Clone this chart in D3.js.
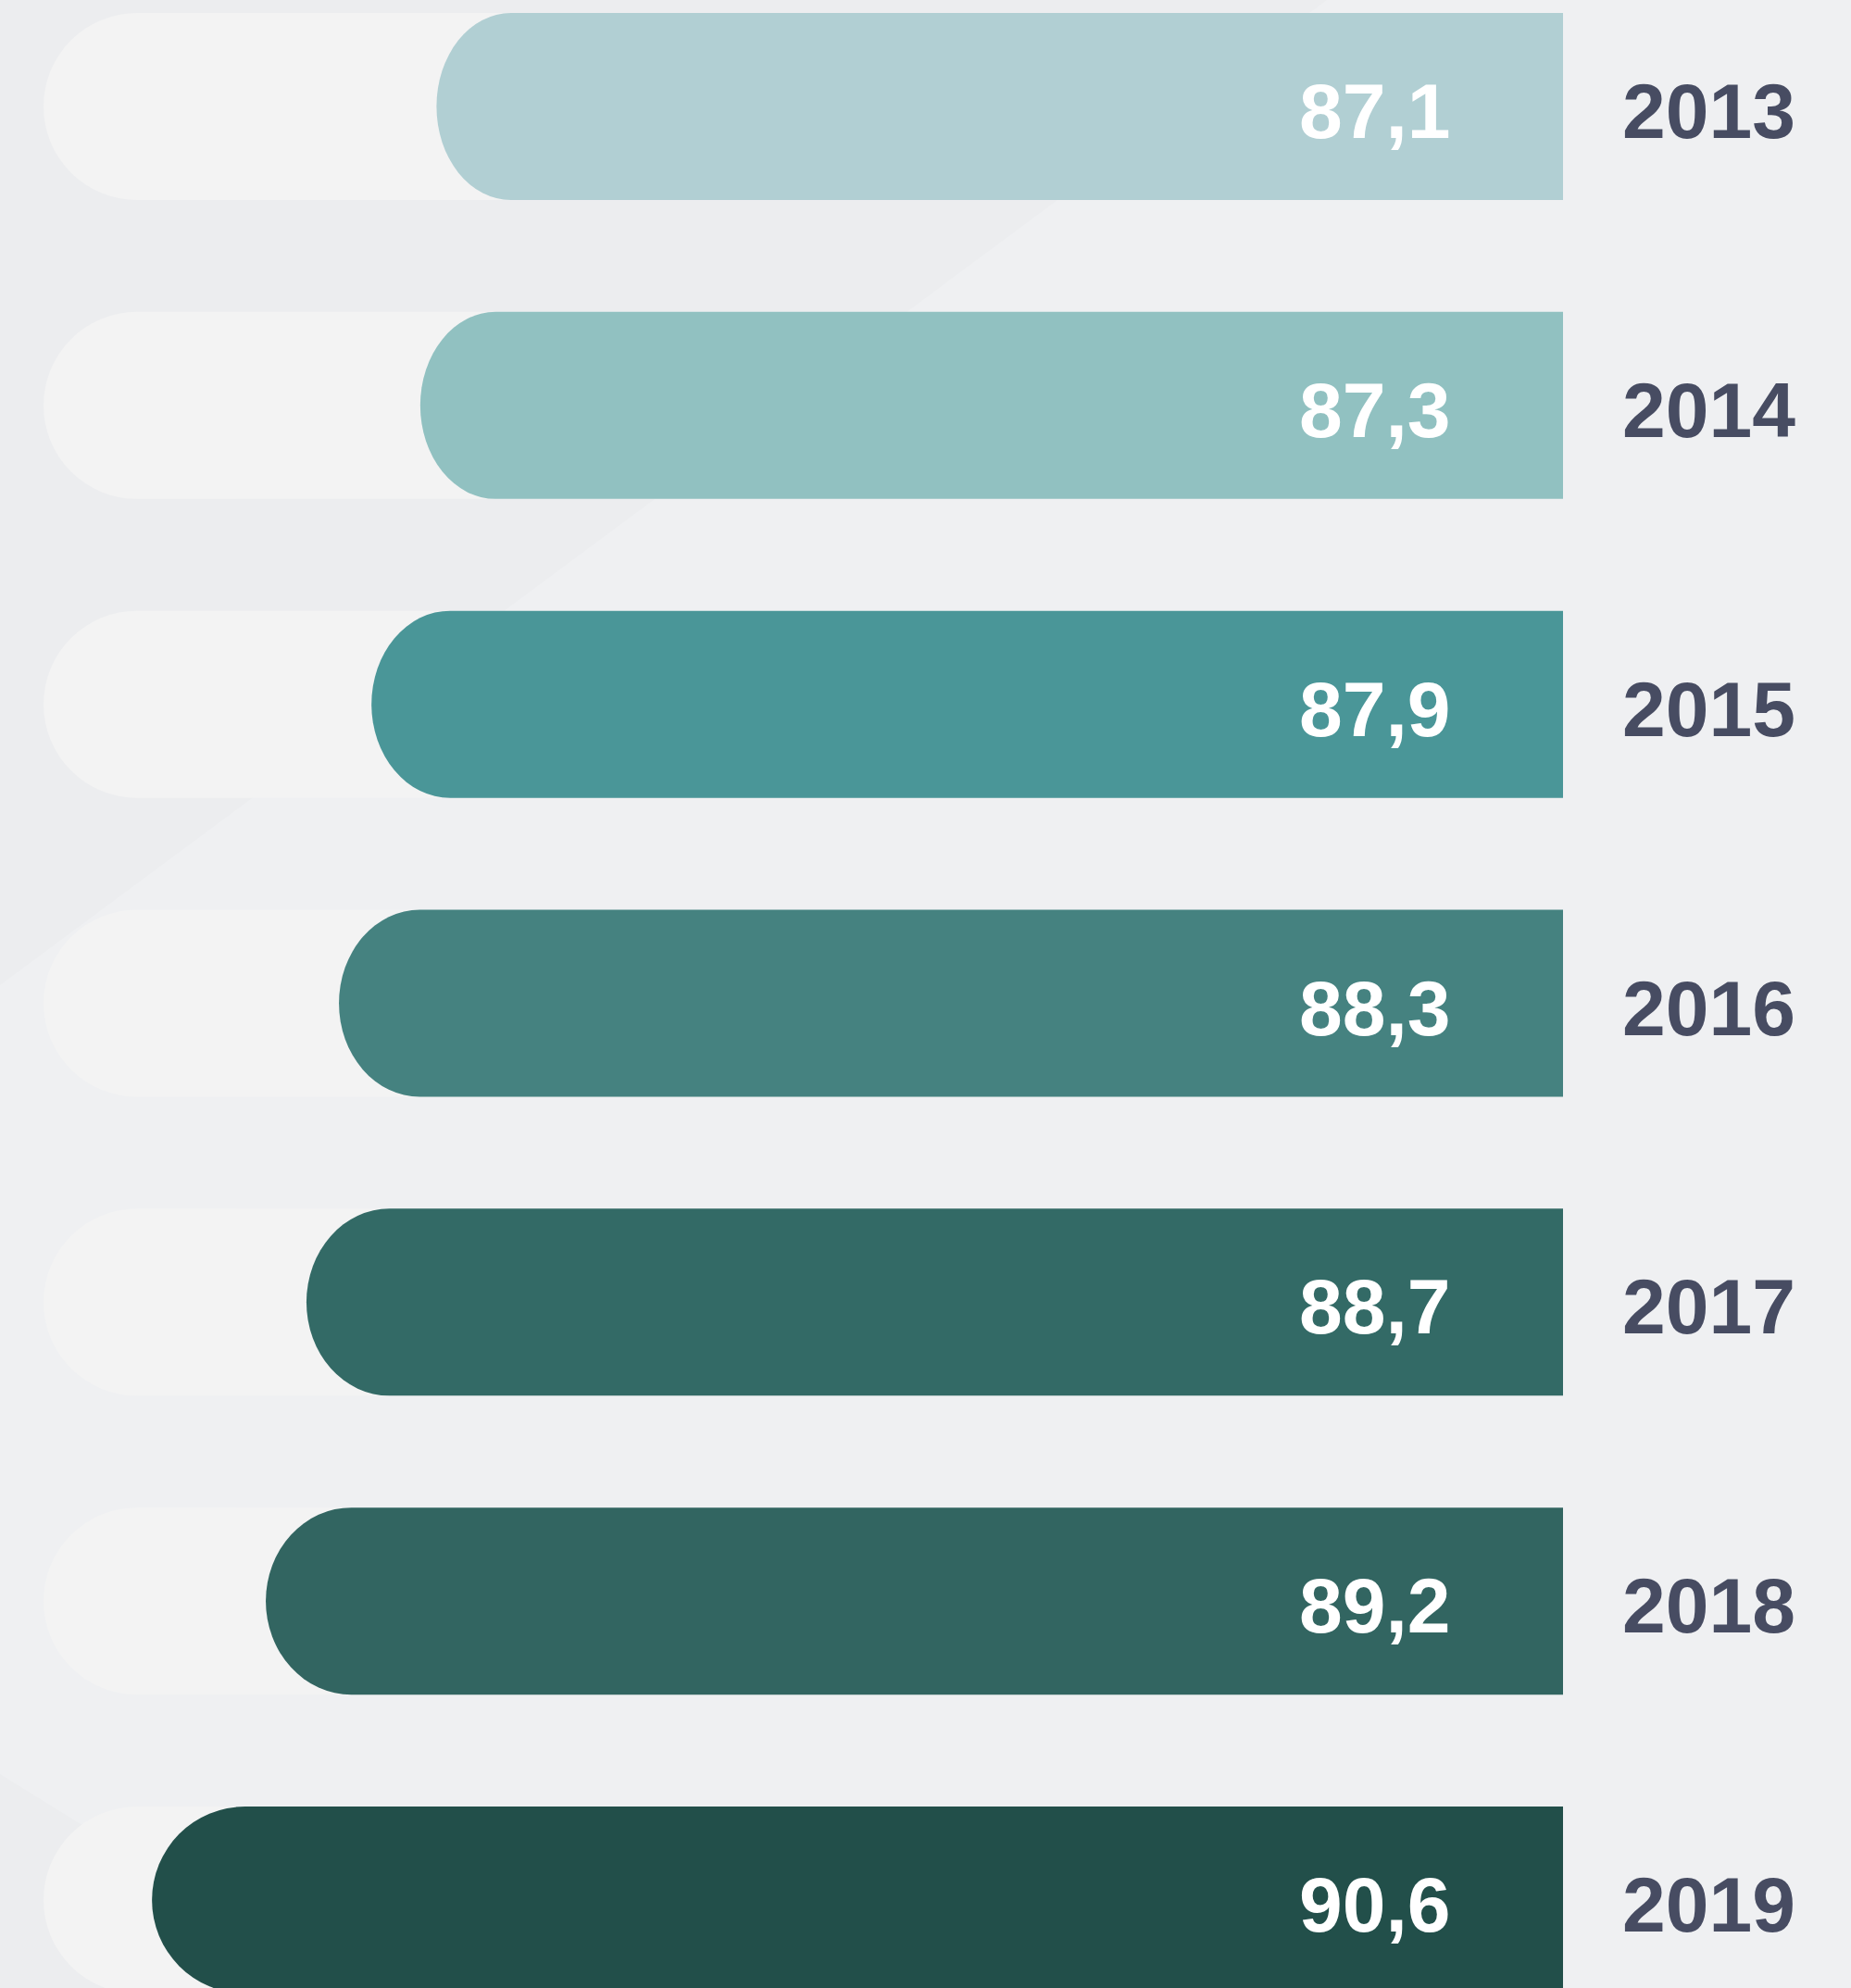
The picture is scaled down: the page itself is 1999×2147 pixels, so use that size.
<!DOCTYPE html>
<html>
<head>
<meta charset="utf-8">
<script src="https://cdn.jsdelivr.net/npm/d3@7"></script>
<style>
  html, body { margin: 0; padding: 0; background: #ecedef; }
  svg { display: block; }
</style>
</head>
<body>
<div id="chart"></div>
<script>
// data
var years = ["2013", "2014", "2015", "2016", "2017", "2018", "2019"];
var values = [87.1, 87.3, 87.9, 88.3, 88.7, 89.2, 90.6];
var labels = ["87,1", "87,3", "87,9", "88,3", "88,7", "89,2", "90,6"];
var colors = ["#b1cfd3", "#91c1c1", "#4a9698", "#458280", "#336a66", "#326561", "#224f4a"];

var width = 1999
  , height = 2147
  , bar_right = 1688   // all bars end here
  , bar_h = 202
  , track_left = 47    // light grey pill behind each bar
  , value_x = 1403
  , year_x = 1752
  , font = "'Liberation Sans', Arial, Helvetica, sans-serif";

var rows = years.map(function(y, i){
  return {year: y, value: values[i], label: labels[i], color: colors[i]};
});

var svg = d3.select("#chart").append("svg")
  .attr("width", width)
  .attr("height", height);

// faint lighter band in the background
svg.append("rect")
  .attr("width", width).attr("height", height)
  .attr("fill", "#ecedef");
svg.append("path")
  .attr("d", "M0,1064 L1433,0 L1999,0 L1999,2147 L373,2147 L0,1916 Z")
  .attr("fill", "#eff0f2");

// y == year (row centres), x == left end of the coloured bar
var yScale = d3.scalePoint()
  .domain(years)
  .range([115, 2052]);

var xScale = d3.scaleLinear()
  .domain([86, 91])
  .range([568, 129]);

var row = svg.selectAll(".row")
  .data(rows)
 .enter().append("g")
  .attr("class", "row")
  .attr("transform", d => "translate(0," + yScale(d.year) + ")");

// background track, round left end
row.append("path")
  .attr("d", function(){
    var r = bar_h/2;
    return "M" + bar_right + "," + (-r) +
      " H" + (track_left + r) +
      " A" + r + "," + r + " 0 0 0 " + (track_left + r) + "," + r +
      " H" + bar_right + " Z";
  })
  .attr("fill", "#f3f3f3");

// coloured bar, stretched elliptical left end
row.append("path")
  .attr("d", function(d){
    var left = xScale(d.value)
      , w = bar_right - left
      , rx = w*0.066
      , ry = bar_h/2;
    return "M" + bar_right + "," + (-ry) +
      " H" + (left + rx) +
      " A" + rx + "," + ry + " 0 0 0 " + (left + rx) + "," + ry +
      " H" + bar_right + " Z";
  })
  .attr("fill", d => d.color);

row.append("text")
  .attr("x", value_x)
  .attr("y", 34)
  .attr("fill", "#ffffff")
  .style("font-family", font)
  .style("font-weight", "bold")
  .style("font-size", "84px")
  .text(d => d.label);

row.append("text")
  .attr("x", year_x)
  .attr("y", 34)
  .attr("fill", "#474c62")
  .style("font-family", font)
  .style("font-weight", "bold")
  .style("font-size", "84px")
  .text(d => d.year);
</script>
</body>
</html>
